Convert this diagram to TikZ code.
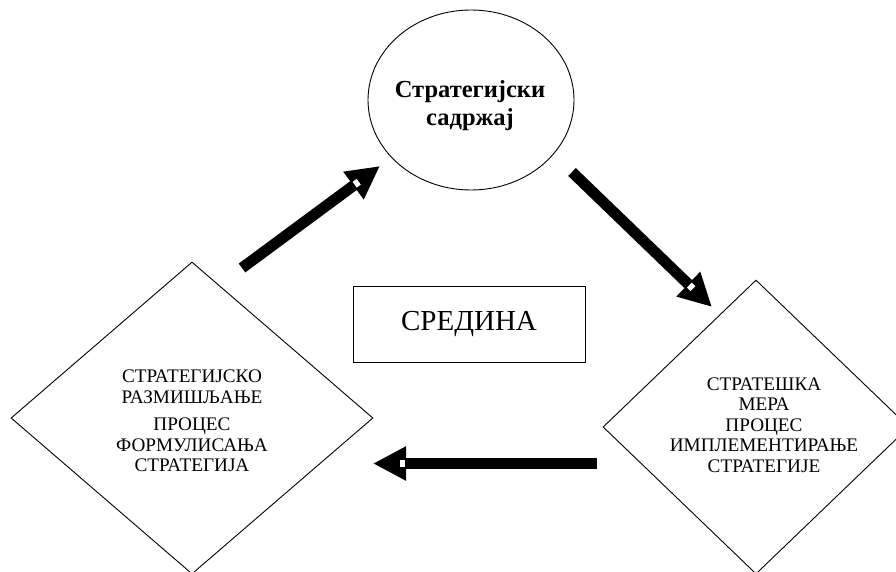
\documentclass[tikz,border=0pt]{standalone}
\usepackage{fontspec}
\setmainfont{Liberation Serif}
\usetikzlibrary{shapes.geometric,arrows.meta,calc}
\begin{document}
\begin{tikzpicture}[x=1pt,y=-1pt,
  blockarrow/.style={line width=11pt, -{Triangle[width=32pt,length=33pt]}},
  notch/.style={fill=white, draw=none, inner sep=0pt, minimum width=5pt, minimum height=7pt},
  outline/.style={draw, line width=0.9pt, inner sep=0pt},
  dtext/.style={align=center, font=\fontsize{19.2}{20.5}\selectfont, inner sep=0pt}]
\useasboundingbox (0,0) rectangle (896,572);
\clip (0,0) rectangle (896,572);
% shapes
\node[outline, ellipse, minimum width=206pt, minimum height=180pt] (content) at (471,100) {};
\node[align=center, font=\bfseries\fontsize{24.5}{28}\selectfont, inner sep=0pt] (contenttext) at (470,106) {Стратегијски\\садржај};
\node[outline, minimum width=232pt, minimum height=76pt, font=\fontsize{29}{32}\selectfont] (env) at (469,324) {СРЕДИНА};
\node[outline, diamond, minimum width=362pt, minimum height=312pt] (left) at (192,418) {};
\node[dtext] (lefttext) at (192,421) {СТРАТЕГИЈСКО\\РАЗМИШЉАЊЕ\\[7pt]ПРОЦЕС\\ФОРМУЛИСАЊА\\СТРАТЕГИЈА};
\node[outline, diamond, minimum width=306pt, minimum height=294pt] (right) at (756,427) {};
\node[dtext] (righttext) at (764,425) {СТРАТЕШКА\\МЕРА\\ПРОЦЕС\\ИМПЛЕМЕНТИРАЊЕ\\СТРАТЕГИЈЕ};
% arrow end points
\coordinate (a1t) at (242,268);
\coordinate (a1h) at (380,166);
\coordinate (a2t) at (572,172);
\coordinate (a2h) at (712,307);
\coordinate (a3t) at (597,463.5);
\coordinate (a3h) at (373,463.5);
% arrows
\draw[blockarrow] (a1t) -- (a1h);
\draw[blockarrow] (a2t) -- (a2h);
\draw[blockarrow] (a3t) -- (a3h);
\node[notch, rotate=36.5] (n1) at ($(a1h)!29pt!(a1t)$) {};
\node[notch, rotate=-44] (n2) at ($(a2h)!29pt!(a2t)$) {};
\node[notch] (n3) at ($(a3h)!29pt!(a3t)$) {};
\end{tikzpicture}
\end{document}
